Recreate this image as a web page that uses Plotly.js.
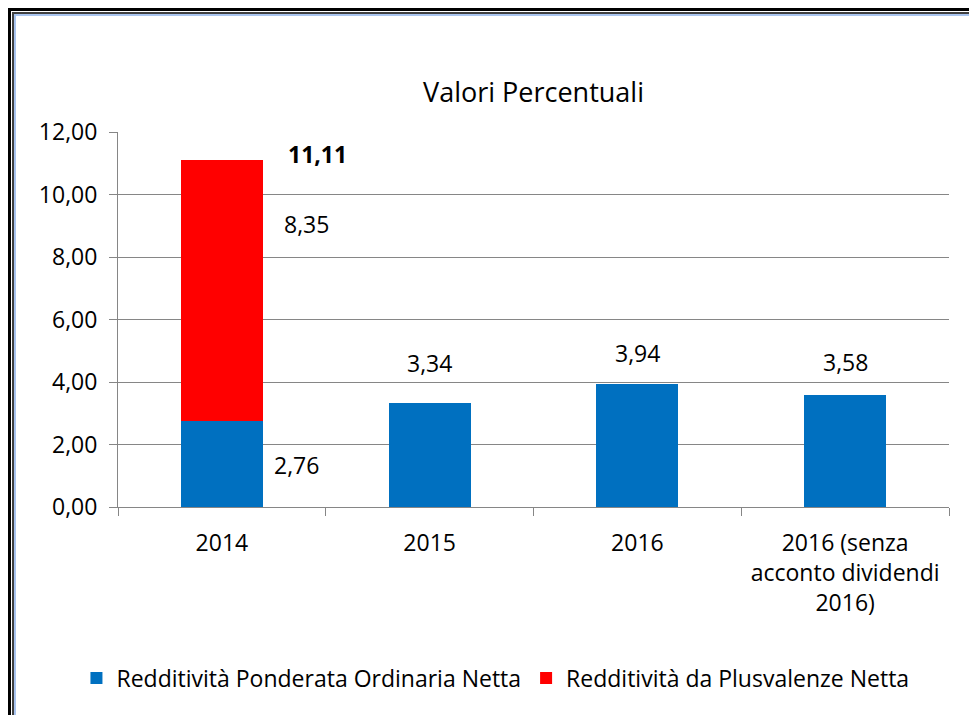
<!DOCTYPE html>
<html><head><meta charset="utf-8">
<script src="https://cdn.plot.ly/plotly-3.0.1.min.js"></script>
<style>
html,body{margin:0;padding:0;background:#fff;overflow:hidden;}
#wrap{position:relative;width:969px;height:715px;}
#chart{position:absolute;left:0;top:0;width:969px;height:715px;}
.f1{position:absolute;left:8px;top:8px;width:980px;height:730px;border-left:3px solid #000;border-top:3px solid #000;pointer-events:none;}
.f2{position:absolute;left:12px;top:12px;width:980px;height:730px;border-left:2px solid #404040;border-top:2px solid #404040;pointer-events:none;}
.f3{position:absolute;left:14px;top:14px;width:980px;height:730px;border-left:2px solid #a9c4ee;border-top:2px solid #a9c4ee;pointer-events:none;}
</style></head>
<body><div id="wrap"><div id="chart"></div><div class="f1"></div><div class="f2"></div><div class="f3"></div></div>
<script>
const categories = ['2014', '2015', '2016', '2016 (senza<br>acconto dividendi<br>2016)'];
const ordinaria = [2.76, 3.34, 3.94, 3.58];
const plusvalenze = [8.35, null, null, null];
const seriesNames = ['Redditività Ponderata Ordinaria Netta', 'Redditività da Plusvalenze Netta'];
const yTicks = [0, 2, 4, 6, 8, 10, 12];

const fmt = v => v.toFixed(2).replace('.', ',');
const FONT = '"Open Sans", sans-serif';
const idx = categories.map((c, i) => i);

const traces = [
  {type:'bar', x:idx, y:ordinaria, name:seriesNames[0], marker:{color:'#0070C0'}, hoverinfo:'skip'},
  {type:'bar', x:idx, y:plusvalenze, name:seriesNames[1], marker:{color:'#FF0000'}, hoverinfo:'skip'}
];

const ann = [];
const total0 = ordinaria[0] + plusvalenze[0];
ann.push({x:0, y:total0, xref:'x', yref:'y', text:'<b>'+fmt(total0)+'</b>', showarrow:false, xshift:96, yshift:6, font:{size:23, color:'#000', family:FONT}});
ann.push({x:0, y:total0, xref:'x', yref:'y', text:fmt(plusvalenze[0]), showarrow:false, xshift:85, yshift:-64, font:{size:23, color:'#000', family:FONT}});
ann.push({x:0, y:ordinaria[0], xref:'x', yref:'y', text:fmt(ordinaria[0]), showarrow:false, xshift:75, yshift:-44, font:{size:23, color:'#000', family:FONT}});
const topShifts = [0, 40, 31, 33];
for (let i = 1; i < categories.length; i++) {
  ann.push({x:i, y:ordinaria[i], xref:'x', yref:'y', text:fmt(ordinaria[i]), showarrow:false, yshift:topShifts[i], font:{size:23, color:'#000', family:FONT}});
}

const layout = {
  width:969, height:715,
  margin:{l:118, r:20, t:132, b:208, pad:0},
  paper_bgcolor:'#fff', plot_bgcolor:'#fff',
  separators:',.',
  barmode:'stack', bargap:0.605,
  font:{family:FONT, size:23, color:'#000'},
  title:{text:'Valori Percentuali', x:0.5, xref:'paper', xanchor:'center', y:1-93/715, yanchor:'middle', font:{size:27, family:FONT, color:'#000'}},
  xaxis:{type:'linear', range:[-0.5, 3.5], tickvals:[-0.5, 0.5, 1.5, 2.5, 3.5], ticktext:['', '', '', '', ''], showline:true, linecolor:'#868686', linewidth:1, ticks:'outside', ticklen:8, tickcolor:'#868686', showgrid:false, zeroline:false, fixedrange:true},
  xaxis2:{overlaying:'x', matches:'x', anchor:'y', side:'bottom', range:[-0.5, 3.5], tickvals:idx, ticktext:categories, ticks:'', showline:false, showgrid:false, zeroline:false, tickfont:{size:23, family:FONT, color:'#000'}, ticklabelstandoff:20, fixedrange:true},
  yaxis:{range:[0,12], tickvals:yTicks, tickformat:'.2f', showline:true, linecolor:'#868686', linewidth:1, ticks:'outside', ticklen:8, tickcolor:'#868686', gridcolor:'#868686', gridwidth:1, zeroline:false, tickfont:{size:23, family:FONT, color:'#000'}, ticklabelstandoff:7, fixedrange:true},
  legend:{orientation:'h', x:-0.05, xanchor:'left', y:-0.456, yanchor:'middle', font:{size:23, family:FONT, color:'#000'}, traceorder:'normal', itemclick:false, itemdoubleclick:false},
  annotations:ann,
  showlegend:true
};
traces.push({type:'scatter', x:[0], y:[null], xaxis:'x2', yaxis:'y', showlegend:false, hoverinfo:'skip'});
Plotly.newPlot('chart', traces, layout, {displayModeBar:false, staticPlot:true});
</script></body></html>
